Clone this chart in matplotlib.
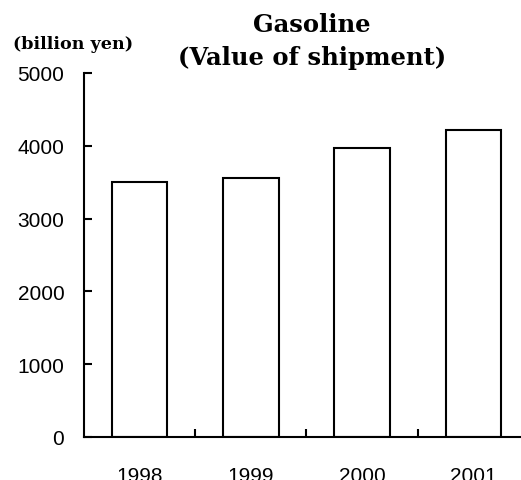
#!/usr/bin/env python3
import matplotlib
matplotlib.use("Agg")
import matplotlib.pyplot as plt

plt.rcParams["font.family"] = ["Liberation Sans", "DejaVu Sans"]

years = ["1998", "1999", "2000", "2001"]
shipment = [3500, 3560, 3970, 4210]
yticks = [0, 1000, 2000, 3000, 4000, 5000]

fig = plt.figure(figsize=(5.21, 4.81), dpi=100)
ax = fig.add_axes([0.1607, 0.0894, 0.8547, 0.7568])

x = range(len(years))
ax.bar(x, shipment, width=0.5, color="white", edgecolor="black", linewidth=1.5)

ax.set_xlim(-0.5, len(years) - 0.5)
ax.set_ylim(0, 5000)
ax.set_yticks(yticks)
ax.set_yticklabels([str(v) for v in yticks], fontsize=15)
ax.set_xticks(x)
ax.set_xticklabels(years, fontsize=15)
ax.tick_params(axis="x", length=0, pad=21)
ax.tick_params(axis="y", direction="in", length=6, width=1.5, pad=14)
# category boundary ticks
ax.set_xticks([0.5, 1.5, 2.5], minor=True)
ax.tick_params(axis="x", which="minor", direction="in", length=6, width=1.5)

ax.spines["top"].set_visible(False)
ax.spines["right"].set_visible(False)
ax.spines["left"].set_linewidth(1.5)
ax.spines["bottom"].set_linewidth(1.5)

fig.text(0.599, 0.9335, "Gasoline", ha="center", va="baseline",
         fontsize=17.5, fontweight="bold", family="DejaVu Serif")
fig.text(0.599, 0.865, "(Value of shipment)", ha="center", va="baseline",
         fontsize=17.5, fontweight="bold", family="DejaVu Serif")
fig.text(0.025, 0.898, "(billion yen)", ha="left", va="baseline",
         fontsize=12.6, fontweight="bold", family="DejaVu Serif")

plt.savefig("out.png", dpi=100)
